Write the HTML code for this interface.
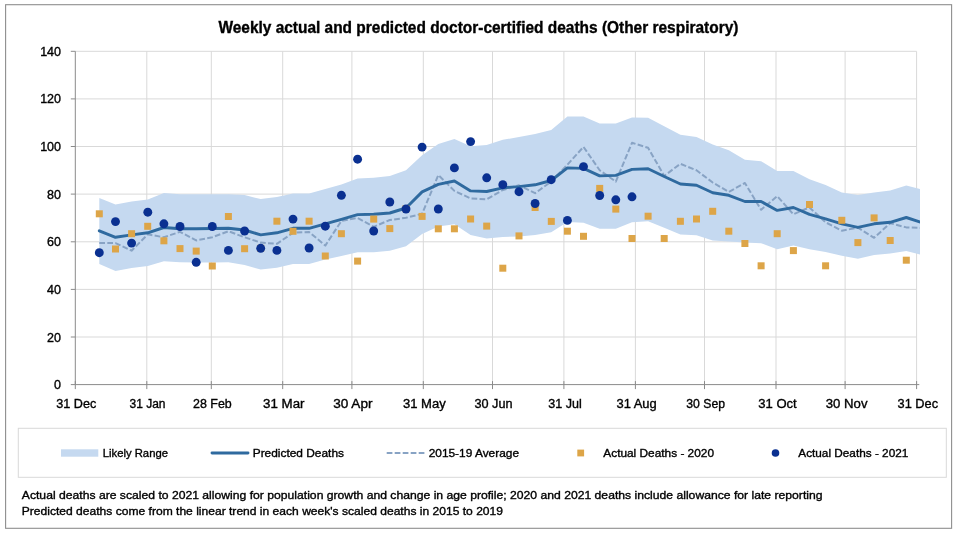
<!DOCTYPE html>
<html><head><meta charset="utf-8"><title>Weekly actual and predicted doctor-certified deaths</title>
<style>
html,body{margin:0;padding:0;background:#ffffff;}
body{width:960px;height:537px;overflow:hidden;}
svg text{font-family:"Liberation Sans",sans-serif;fill:#000000;stroke:#000000;stroke-width:0.35px;}
svg{will-change:transform;opacity:0.999;}
</style></head><body>
<svg width="960" height="537" viewBox="0 0 960 537" style="display:block">
<rect x="0" y="0" width="960" height="537" fill="#ffffff"/>
<rect x="5.6" y="4.7" width="946" height="523.6" fill="#ffffff" stroke="#8E8E8E" stroke-width="1.1"/>
<line x1="75.3" x2="916.6" y1="337.0" y2="337.0" stroke="#D9D9D9" stroke-width="1"/>
<line x1="75.3" x2="916.6" y1="289.4" y2="289.4" stroke="#D9D9D9" stroke-width="1"/>
<line x1="75.3" x2="916.6" y1="241.8" y2="241.8" stroke="#D9D9D9" stroke-width="1"/>
<line x1="75.3" x2="916.6" y1="194.1" y2="194.1" stroke="#D9D9D9" stroke-width="1"/>
<line x1="75.3" x2="916.6" y1="146.5" y2="146.5" stroke="#D9D9D9" stroke-width="1"/>
<line x1="75.3" x2="916.6" y1="98.9" y2="98.9" stroke="#D9D9D9" stroke-width="1"/>
<line x1="75.3" x2="916.6" y1="51.3" y2="51.3" stroke="#D9D9D9" stroke-width="1"/>
<line x1="146.8" x2="146.8" y1="51.3" y2="384.6" stroke="#D9D9D9" stroke-width="1"/>
<line x1="211.3" x2="211.3" y1="51.3" y2="384.6" stroke="#D9D9D9" stroke-width="1"/>
<line x1="282.7" x2="282.7" y1="51.3" y2="384.6" stroke="#D9D9D9" stroke-width="1"/>
<line x1="351.9" x2="351.9" y1="51.3" y2="384.6" stroke="#D9D9D9" stroke-width="1"/>
<line x1="423.3" x2="423.3" y1="51.3" y2="384.6" stroke="#D9D9D9" stroke-width="1"/>
<line x1="492.5" x2="492.5" y1="51.3" y2="384.6" stroke="#D9D9D9" stroke-width="1"/>
<line x1="563.9" x2="563.9" y1="51.3" y2="384.6" stroke="#D9D9D9" stroke-width="1"/>
<line x1="635.4" x2="635.4" y1="51.3" y2="384.6" stroke="#D9D9D9" stroke-width="1"/>
<line x1="704.5" x2="704.5" y1="51.3" y2="384.6" stroke="#D9D9D9" stroke-width="1"/>
<line x1="776.0" x2="776.0" y1="51.3" y2="384.6" stroke="#D9D9D9" stroke-width="1"/>
<line x1="845.1" x2="845.1" y1="51.3" y2="384.6" stroke="#D9D9D9" stroke-width="1"/>
<line x1="916.6" x2="916.6" y1="51.3" y2="384.6" stroke="#D9D9D9" stroke-width="1"/>
<defs><clipPath id="cp"><rect x="70" y="40" width="850" height="350"/></clipPath></defs>
<g clip-path="url(#cp)">
<polygon points="99.3,198.0 115.5,204.6 131.6,201.5 147.8,199.5 163.9,192.9 180.0,194.3 196.2,194.3 212.3,194.3 228.4,194.3 244.6,195.0 260.7,199.1 276.9,197.0 293.0,193.5 309.1,193.5 325.3,189.0 341.4,184.5 357.6,178.6 373.7,177.7 389.8,176.0 406.0,170.3 422.1,155.3 438.3,144.1 454.4,139.0 470.6,146.3 486.7,145.0 502.8,139.8 519.0,137.1 535.1,134.1 551.2,130.0 567.4,116.5 583.5,116.5 599.7,123.4 615.8,123.4 632.0,117.4 648.1,117.8 664.2,126.3 680.4,134.7 696.5,137.1 712.7,144.6 728.8,150.3 744.9,159.8 761.1,161.3 777.2,171.1 793.4,171.1 809.5,179.2 825.6,185.1 841.8,192.6 857.9,194.9 874.1,192.6 890.2,190.5 906.3,185.4 922.5,189.6 922.5,255.1 906.3,251.0 890.2,253.6 874.1,255.1 857.9,258.7 841.8,255.7 825.6,252.1 809.5,249.2 793.4,245.6 777.2,249.2 761.1,243.2 744.9,242.6 728.8,241.5 712.7,240.4 696.5,235.3 680.4,234.4 664.2,227.8 648.1,221.3 632.0,222.2 615.8,228.8 599.7,228.8 583.5,222.8 567.4,222.0 551.2,232.2 535.1,235.0 519.0,236.5 502.8,236.9 486.7,238.4 470.6,235.0 454.4,224.3 438.3,226.6 422.1,234.1 406.0,246.3 389.8,250.7 373.7,252.2 357.6,252.2 341.4,256.0 325.3,259.6 309.1,264.1 293.0,264.1 276.9,267.7 260.7,269.5 244.6,265.0 228.4,262.3 212.3,262.5 196.2,262.5 180.0,262.3 163.9,261.3 147.8,266.0 131.6,268.1 115.5,271.1 99.3,264.0" fill="#C5D9F0"/>
<polyline points="99.3,242.9 115.5,243.1 131.6,250.7 147.8,234.3 163.9,237.3 180.0,231.8 196.2,240.4 212.3,237.3 228.4,231.2 244.6,237.3 260.7,242.6 276.9,243.8 293.0,232.8 309.1,231.9 325.3,245.6 341.4,220.9 357.6,217.9 373.7,226.8 389.8,220.0 406.0,217.8 422.1,213.8 438.3,175.0 454.4,190.9 470.6,198.4 486.7,199.4 502.8,190.0 519.0,185.3 535.1,193.2 551.2,181.6 567.4,164.7 583.5,146.9 599.7,170.3 615.8,181.6 632.0,142.8 648.1,147.8 664.2,175.9 680.4,163.8 696.5,170.3 712.7,182.5 728.8,191.9 744.9,183.0 761.1,209.8 777.2,196.1 793.4,214.3 809.5,207.4 825.6,222.3 841.8,230.7 857.9,227.7 874.1,237.8 890.2,223.2 906.3,227.4 922.5,228.0" fill="none" stroke="#88A3C4" stroke-width="2.0" stroke-dasharray="5.7 2.3" stroke-linejoin="round"/>
<polyline points="99.3,230.8 115.5,237.3 131.6,234.9 147.8,232.8 163.9,227.5 180.0,228.7 196.2,228.7 212.3,228.5 228.4,228.3 244.6,230.0 260.7,234.9 276.9,232.8 293.0,228.3 309.1,228.3 325.3,223.9 341.4,219.4 357.6,214.6 373.7,214.3 389.8,213.0 406.0,208.0 422.1,191.9 438.3,184.4 454.4,181.0 470.6,190.9 486.7,191.5 502.8,187.8 519.0,186.6 535.1,184.8 551.2,180.5 567.4,167.9 583.5,168.4 599.7,175.9 615.8,175.4 632.0,169.4 648.1,168.8 664.2,176.5 680.4,184.0 696.5,185.3 712.7,192.8 728.8,195.3 744.9,201.5 761.1,201.5 777.2,210.4 793.4,207.5 809.5,214.3 825.6,218.8 841.8,223.8 857.9,227.4 874.1,223.8 890.2,222.3 906.3,217.5 922.5,222.9" fill="none" stroke="#2F6A9F" stroke-width="2.9" stroke-linejoin="round" stroke-linecap="round"/>
<rect x="95.8" y="210.3" width="7.0" height="7.0" fill="#DDA548"/>
<rect x="112.0" y="245.5" width="7.0" height="7.0" fill="#DDA548"/>
<rect x="128.1" y="230.2" width="7.0" height="7.0" fill="#DDA548"/>
<rect x="144.2" y="222.8" width="7.0" height="7.0" fill="#DDA548"/>
<rect x="160.4" y="237.3" width="7.0" height="7.0" fill="#DDA548"/>
<rect x="176.5" y="245.1" width="7.0" height="7.0" fill="#DDA548"/>
<rect x="192.7" y="247.6" width="7.0" height="7.0" fill="#DDA548"/>
<rect x="208.8" y="262.5" width="7.0" height="7.0" fill="#DDA548"/>
<rect x="224.9" y="213.0" width="7.0" height="7.0" fill="#DDA548"/>
<rect x="241.1" y="245.2" width="7.0" height="7.0" fill="#DDA548"/>
<rect x="257.2" y="244.8" width="7.0" height="7.0" fill="#DDA548"/>
<rect x="273.4" y="217.7" width="7.0" height="7.0" fill="#DDA548"/>
<rect x="289.5" y="227.8" width="7.0" height="7.0" fill="#DDA548"/>
<rect x="305.6" y="217.7" width="7.0" height="7.0" fill="#DDA548"/>
<rect x="321.8" y="252.5" width="7.0" height="7.0" fill="#DDA548"/>
<rect x="337.9" y="230.2" width="7.0" height="7.0" fill="#DDA548"/>
<rect x="354.1" y="257.6" width="7.0" height="7.0" fill="#DDA548"/>
<rect x="370.2" y="215.6" width="7.0" height="7.0" fill="#DDA548"/>
<rect x="386.3" y="225.1" width="7.0" height="7.0" fill="#DDA548"/>
<rect x="402.5" y="205.2" width="7.0" height="7.0" fill="#DDA548"/>
<rect x="418.6" y="212.9" width="7.0" height="7.0" fill="#DDA548"/>
<rect x="434.8" y="225.3" width="7.0" height="7.0" fill="#DDA548"/>
<rect x="450.9" y="225.3" width="7.0" height="7.0" fill="#DDA548"/>
<rect x="467.1" y="215.5" width="7.0" height="7.0" fill="#DDA548"/>
<rect x="483.2" y="222.6" width="7.0" height="7.0" fill="#DDA548"/>
<rect x="499.3" y="264.7" width="7.0" height="7.0" fill="#DDA548"/>
<rect x="515.5" y="232.4" width="7.0" height="7.0" fill="#DDA548"/>
<rect x="531.6" y="204.0" width="7.0" height="7.0" fill="#DDA548"/>
<rect x="547.8" y="217.9" width="7.0" height="7.0" fill="#DDA548"/>
<rect x="563.9" y="227.7" width="7.0" height="7.0" fill="#DDA548"/>
<rect x="580.0" y="232.8" width="7.0" height="7.0" fill="#DDA548"/>
<rect x="596.2" y="184.9" width="7.0" height="7.0" fill="#DDA548"/>
<rect x="612.3" y="205.6" width="7.0" height="7.0" fill="#DDA548"/>
<rect x="628.5" y="235.0" width="7.0" height="7.0" fill="#DDA548"/>
<rect x="644.6" y="212.7" width="7.0" height="7.0" fill="#DDA548"/>
<rect x="660.7" y="235.0" width="7.0" height="7.0" fill="#DDA548"/>
<rect x="676.9" y="217.8" width="7.0" height="7.0" fill="#DDA548"/>
<rect x="693.0" y="215.5" width="7.0" height="7.0" fill="#DDA548"/>
<rect x="709.2" y="207.8" width="7.0" height="7.0" fill="#DDA548"/>
<rect x="725.3" y="227.7" width="7.0" height="7.0" fill="#DDA548"/>
<rect x="741.4" y="240.0" width="7.0" height="7.0" fill="#DDA548"/>
<rect x="757.6" y="262.3" width="7.0" height="7.0" fill="#DDA548"/>
<rect x="773.7" y="230.2" width="7.0" height="7.0" fill="#DDA548"/>
<rect x="789.9" y="247.1" width="7.0" height="7.0" fill="#DDA548"/>
<rect x="806.0" y="201.0" width="7.0" height="7.0" fill="#DDA548"/>
<rect x="822.1" y="262.3" width="7.0" height="7.0" fill="#DDA548"/>
<rect x="838.3" y="216.8" width="7.0" height="7.0" fill="#DDA548"/>
<rect x="854.4" y="239.1" width="7.0" height="7.0" fill="#DDA548"/>
<rect x="870.6" y="214.4" width="7.0" height="7.0" fill="#DDA548"/>
<rect x="886.7" y="237.0" width="7.0" height="7.0" fill="#DDA548"/>
<rect x="902.8" y="256.7" width="7.0" height="7.0" fill="#DDA548"/>
<circle cx="99.3" cy="252.7" r="4.45" fill="#0A3091"/>
<circle cx="115.5" cy="221.6" r="4.45" fill="#0A3091"/>
<circle cx="131.6" cy="243.1" r="4.45" fill="#0A3091"/>
<circle cx="147.8" cy="212.2" r="4.45" fill="#0A3091"/>
<circle cx="163.9" cy="223.8" r="4.45" fill="#0A3091"/>
<circle cx="180.0" cy="226.5" r="4.45" fill="#0A3091"/>
<circle cx="196.2" cy="262.3" r="4.45" fill="#0A3091"/>
<circle cx="212.3" cy="226.5" r="4.45" fill="#0A3091"/>
<circle cx="228.4" cy="250.4" r="4.45" fill="#0A3091"/>
<circle cx="244.6" cy="231.0" r="4.45" fill="#0A3091"/>
<circle cx="260.7" cy="248.3" r="4.45" fill="#0A3091"/>
<circle cx="276.9" cy="250.4" r="4.45" fill="#0A3091"/>
<circle cx="293.0" cy="219.1" r="4.45" fill="#0A3091"/>
<circle cx="309.1" cy="248.0" r="4.45" fill="#0A3091"/>
<circle cx="325.3" cy="226.2" r="4.45" fill="#0A3091"/>
<circle cx="341.4" cy="195.3" r="4.45" fill="#0A3091"/>
<circle cx="357.6" cy="159.2" r="4.45" fill="#0A3091"/>
<circle cx="373.7" cy="231.0" r="4.45" fill="#0A3091"/>
<circle cx="389.8" cy="202.0" r="4.45" fill="#0A3091"/>
<circle cx="406.0" cy="209.0" r="4.45" fill="#0A3091"/>
<circle cx="422.1" cy="147.1" r="4.45" fill="#0A3091"/>
<circle cx="438.3" cy="209.0" r="4.45" fill="#0A3091"/>
<circle cx="454.4" cy="167.9" r="4.45" fill="#0A3091"/>
<circle cx="470.6" cy="141.6" r="4.45" fill="#0A3091"/>
<circle cx="486.7" cy="177.8" r="4.45" fill="#0A3091"/>
<circle cx="502.8" cy="184.7" r="4.45" fill="#0A3091"/>
<circle cx="519.0" cy="191.7" r="4.45" fill="#0A3091"/>
<circle cx="535.1" cy="203.5" r="4.45" fill="#0A3091"/>
<circle cx="551.2" cy="179.7" r="4.45" fill="#0A3091"/>
<circle cx="567.4" cy="220.4" r="4.45" fill="#0A3091"/>
<circle cx="583.5" cy="166.6" r="4.45" fill="#0A3091"/>
<circle cx="599.7" cy="195.5" r="4.45" fill="#0A3091"/>
<circle cx="615.8" cy="199.8" r="4.45" fill="#0A3091"/>
<circle cx="632.0" cy="196.8" r="4.45" fill="#0A3091"/>
</g>
<line x1="75.3" x2="75.3" y1="51.3" y2="384.6" stroke="#8A8A8A" stroke-width="1"/>
<line x1="75.3" x2="919.3000000000001" y1="384.6" y2="384.6" stroke="#8A8A8A" stroke-width="1"/>
<line x1="70.8" x2="75.3" y1="384.6" y2="384.6" stroke="#8A8A8A" stroke-width="1"/>
<line x1="70.8" x2="75.3" y1="337.0" y2="337.0" stroke="#8A8A8A" stroke-width="1"/>
<line x1="70.8" x2="75.3" y1="289.4" y2="289.4" stroke="#8A8A8A" stroke-width="1"/>
<line x1="70.8" x2="75.3" y1="241.8" y2="241.8" stroke="#8A8A8A" stroke-width="1"/>
<line x1="70.8" x2="75.3" y1="194.1" y2="194.1" stroke="#8A8A8A" stroke-width="1"/>
<line x1="70.8" x2="75.3" y1="146.5" y2="146.5" stroke="#8A8A8A" stroke-width="1"/>
<line x1="70.8" x2="75.3" y1="98.9" y2="98.9" stroke="#8A8A8A" stroke-width="1"/>
<line x1="70.8" x2="75.3" y1="51.3" y2="51.3" stroke="#8A8A8A" stroke-width="1"/>
<line x1="75.3" x2="75.3" y1="381.1" y2="389.1" stroke="#8A8A8A" stroke-width="1"/>
<line x1="146.8" x2="146.8" y1="381.1" y2="389.1" stroke="#8A8A8A" stroke-width="1"/>
<line x1="211.3" x2="211.3" y1="381.1" y2="389.1" stroke="#8A8A8A" stroke-width="1"/>
<line x1="282.7" x2="282.7" y1="381.1" y2="389.1" stroke="#8A8A8A" stroke-width="1"/>
<line x1="351.9" x2="351.9" y1="381.1" y2="389.1" stroke="#8A8A8A" stroke-width="1"/>
<line x1="423.3" x2="423.3" y1="381.1" y2="389.1" stroke="#8A8A8A" stroke-width="1"/>
<line x1="492.5" x2="492.5" y1="381.1" y2="389.1" stroke="#8A8A8A" stroke-width="1"/>
<line x1="563.9" x2="563.9" y1="381.1" y2="389.1" stroke="#8A8A8A" stroke-width="1"/>
<line x1="635.4" x2="635.4" y1="381.1" y2="389.1" stroke="#8A8A8A" stroke-width="1"/>
<line x1="704.5" x2="704.5" y1="381.1" y2="389.1" stroke="#8A8A8A" stroke-width="1"/>
<line x1="776.0" x2="776.0" y1="381.1" y2="389.1" stroke="#8A8A8A" stroke-width="1"/>
<line x1="845.1" x2="845.1" y1="381.1" y2="389.1" stroke="#8A8A8A" stroke-width="1"/>
<line x1="916.6" x2="916.6" y1="381.1" y2="389.1" stroke="#8A8A8A" stroke-width="1"/>
<text x="61" y="389.1" text-anchor="end" font-size="12.5">0</text>
<text x="61" y="341.5" text-anchor="end" font-size="12.5">20</text>
<text x="61" y="293.9" text-anchor="end" font-size="12.5">40</text>
<text x="61" y="246.3" text-anchor="end" font-size="12.5">60</text>
<text x="61" y="198.6" text-anchor="end" font-size="12.5">80</text>
<text x="61" y="151.0" text-anchor="end" font-size="12.5">100</text>
<text x="61" y="103.4" text-anchor="end" font-size="12.5">120</text>
<text x="61" y="55.8" text-anchor="end" font-size="12.5">140</text>
<text x="56.3" y="407.5" font-size="12.5" textLength="40" lengthAdjust="spacingAndGlyphs">31 Dec</text>
<text x="129.5" y="407.5" font-size="12.5" textLength="36" lengthAdjust="spacingAndGlyphs">31 Jan</text>
<text x="193" y="407.5" font-size="12.5" textLength="38.75" lengthAdjust="spacingAndGlyphs">28 Feb</text>
<text x="263" y="407.5" font-size="12.5" textLength="41.5" lengthAdjust="spacingAndGlyphs">31 Mar</text>
<text x="333.25" y="407.5" font-size="12.5" textLength="39.25" lengthAdjust="spacingAndGlyphs">30 Apr</text>
<text x="403" y="407.5" font-size="12.5" textLength="42.75" lengthAdjust="spacingAndGlyphs">31 May</text>
<text x="474.5" y="407.5" font-size="12.5" textLength="38" lengthAdjust="spacingAndGlyphs">30 Jun</text>
<text x="548.25" y="407.5" font-size="12.5" textLength="33.5" lengthAdjust="spacingAndGlyphs">31 Jul</text>
<text x="616.5" y="407.5" font-size="12.5" textLength="40.25" lengthAdjust="spacingAndGlyphs">31 Aug</text>
<text x="686.25" y="407.5" font-size="12.5" textLength="38.75" lengthAdjust="spacingAndGlyphs">30 Sep</text>
<text x="758.25" y="407.5" font-size="12.5" textLength="38.5" lengthAdjust="spacingAndGlyphs">31 Oct</text>
<text x="825.75" y="407.5" font-size="12.5" textLength="41.75" lengthAdjust="spacingAndGlyphs">30 Nov</text>
<text x="897.6" y="407.5" font-size="12.5" textLength="40.5" lengthAdjust="spacingAndGlyphs">31 Dec</text>
<text x="218.4" y="32.7" font-size="16" font-weight="bold" textLength="520" lengthAdjust="spacingAndGlyphs">Weekly actual and predicted doctor-certified deaths (Other respiratory)</text>
<rect x="18.3" y="428.3" width="928" height="49" fill="#ffffff" stroke="#D9D9D9" stroke-width="1"/>
<rect x="61" y="449.3" width="37.3" height="7.4" fill="#C5D9F0"/>
<text x="102.7" y="457" font-size="11.5" textLength="65.3" lengthAdjust="spacingAndGlyphs">Likely Range</text>
<line x1="212" x2="248" y1="453" y2="453" stroke="#2F6A9F" stroke-width="2.9" stroke-linecap="round"/>
<text x="252.7" y="457" font-size="11.5" textLength="91.3" lengthAdjust="spacingAndGlyphs">Predicted Deaths</text>
<line x1="386.7" x2="425" y1="453" y2="453" stroke="#88A3C4" stroke-width="2.0" stroke-dasharray="5.7 2.3"/>
<text x="428.7" y="457" font-size="11.5" textLength="90.3" lengthAdjust="spacingAndGlyphs">2015-19 Average</text>
<rect x="577.3" y="449.6" width="6.8" height="6.8" fill="#DDA548"/>
<text x="603.3" y="457" font-size="11.5" textLength="110.7" lengthAdjust="spacingAndGlyphs">Actual Deaths - 2020</text>
<circle cx="775.5" cy="453" r="3.8" fill="#0A3091"/>
<text x="798.3" y="457" font-size="11.5" textLength="110" lengthAdjust="spacingAndGlyphs">Actual Deaths - 2021</text>
<text x="21.8" y="499.1" font-size="11.5" textLength="800.7" lengthAdjust="spacingAndGlyphs">Actual deaths are scaled to 2021 allowing for population growth and change in age profile; 2020 and 2021 deaths include allowance for late reporting</text>
<text x="21.8" y="515.4" font-size="11.5" textLength="481.2" lengthAdjust="spacingAndGlyphs">Predicted deaths come from the linear trend in each week's scaled deaths in 2015 to 2019</text>
</svg>
</body></html>
